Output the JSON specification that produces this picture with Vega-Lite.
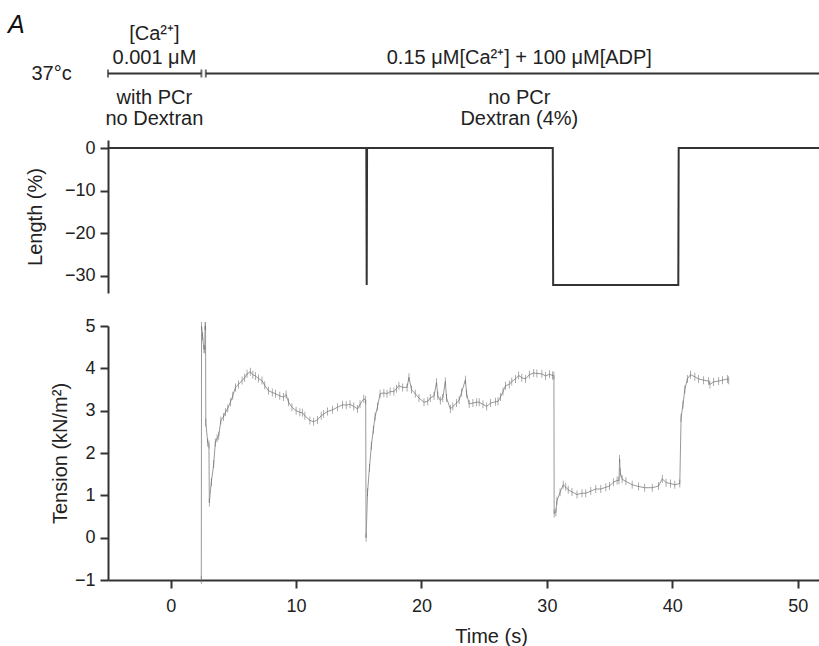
{
  "$schema": "https://vega.github.io/schema/vega-lite/v6.json",
  "padding": {"left": 8, "top": 9, "right": 0, "bottom": 2},
  "background": "white",
  "config": {
    "font": "Liberation Sans",
    "view": {"stroke": null},
    "axis": {
      "domainColor": "#333", "domainWidth": 2, "tickColor": "#333", "tickWidth": 2, "tickSize": 8,
      "labelFontSize": 18, "labelColor": "#222", "labelFont": "Liberation Sans",
      "titleFontSize": 20, "titleFontWeight": "normal", "titleColor": "#222", "titleFont": "Liberation Sans",
      "grid": false, "labelPadding": 5
    }
  },
  "datasets": {
    "phases": [
      {"start": -5, "end": 2.45, "mid": -1.3, "a1": "[Ca²⁺]", "a2": "0.001 μM", "b1": "with PCr", "b2": "no Dextran"},
      {"start": 2.8, "end": 51.7, "mid": 27.8, "a1": "", "a2": "0.15 μM[Ca²⁺] + 100 μM[ADP]", "b1": "no PCr", "b2": "Dextran (4%)"}
    ],
    "edges": [{"t": -5}, {"t": 2.45}, {"t": 2.8}],
    "notes": [{"t": -9.5, "label": "37°c"}],
    "panel": [{"t": -12.3, "label": "A"}],
    "length": [
      {"t": -5, "len": 0}, {"t": 15.6, "len": 0}, {"t": 15.63, "len": -32.1}, {"t": 15.66, "len": 0},
      {"t": 30.47, "len": 0}, {"t": 30.5, "len": -32.1}, {"t": 40.48, "len": -32.1}, {"t": 40.51, "len": 0},
      {"t": 51.7, "len": 0}
    ],
    "tension": [
      {"t": 2.44, "v": -1}, {"t": 2.46, "v": 5}, {"t": 2.55, "v": 4.75}, {"t": 2.65, "v": 4.45}, {"t": 2.72, "v": 4.45},
      {"t": 2.74, "v": 5}, {"t": 2.78, "v": 5}, {"t": 2.8, "v": 2.72}, {"t": 2.95, "v": 2.25}, {"t": 3.05, "v": 2.2},
      {"t": 3.08, "v": 0.83}, {"t": 3.24, "v": 1.31}, {"t": 3.43, "v": 1.74}, {"t": 3.56, "v": 2.25}, {"t": 3.7, "v": 2.35},
      {"t": 3.83, "v": 2.41}, {"t": 4.0, "v": 2.77}, {"t": 4.2, "v": 2.85}, {"t": 4.36, "v": 2.96}, {"t": 4.55, "v": 3.05},
      {"t": 4.76, "v": 3.2}, {"t": 4.95, "v": 3.35}, {"t": 5.16, "v": 3.55}, {"t": 5.4, "v": 3.62}, {"t": 5.69, "v": 3.71},
      {"t": 5.9, "v": 3.78}, {"t": 6.09, "v": 3.87}, {"t": 6.35, "v": 3.92}, {"t": 6.55, "v": 3.85}, {"t": 6.75, "v": 3.82},
      {"t": 7.0, "v": 3.76}, {"t": 7.28, "v": 3.71}, {"t": 7.5, "v": 3.6}, {"t": 7.8, "v": 3.47}, {"t": 8.1, "v": 3.43},
      {"t": 8.35, "v": 3.4}, {"t": 8.7, "v": 3.35}, {"t": 9.0, "v": 3.32}, {"t": 9.2, "v": 3.38}, {"t": 9.4, "v": 3.2},
      {"t": 9.67, "v": 3.08}, {"t": 10.0, "v": 3.0}, {"t": 10.3, "v": 2.96}, {"t": 10.5, "v": 2.95}, {"t": 10.7, "v": 2.88},
      {"t": 11.1, "v": 2.77}, {"t": 11.4, "v": 2.74}, {"t": 11.7, "v": 2.78}, {"t": 12.0, "v": 2.88}, {"t": 12.2, "v": 2.92},
      {"t": 12.5, "v": 2.98}, {"t": 12.9, "v": 3.02}, {"t": 13.3, "v": 3.08}, {"t": 13.7, "v": 3.14}, {"t": 14.0, "v": 3.13},
      {"t": 14.3, "v": 3.15}, {"t": 14.6, "v": 3.1}, {"t": 14.9, "v": 3.04}, {"t": 15.1, "v": 3.15}, {"t": 15.4, "v": 3.28},
      {"t": 15.55, "v": 3.25}, {"t": 15.58, "v": 0.0}, {"t": 15.7, "v": 1.07}, {"t": 15.85, "v": 1.65}, {"t": 16.0, "v": 2.17},
      {"t": 16.16, "v": 2.55}, {"t": 16.3, "v": 2.86}, {"t": 16.5, "v": 3.1}, {"t": 16.7, "v": 3.4}, {"t": 17.0, "v": 3.42},
      {"t": 17.25, "v": 3.4}, {"t": 17.5, "v": 3.45}, {"t": 17.8, "v": 3.45}, {"t": 18.0, "v": 3.52}, {"t": 18.2, "v": 3.59},
      {"t": 18.5, "v": 3.55}, {"t": 18.85, "v": 3.55}, {"t": 19.0, "v": 3.79}, {"t": 19.2, "v": 3.5}, {"t": 19.5, "v": 3.4},
      {"t": 19.8, "v": 3.3}, {"t": 20.2, "v": 3.2}, {"t": 20.5, "v": 3.22}, {"t": 20.7, "v": 3.3}, {"t": 21.0, "v": 3.35},
      {"t": 21.2, "v": 3.67}, {"t": 21.3, "v": 3.35}, {"t": 21.5, "v": 3.24}, {"t": 21.7, "v": 3.3}, {"t": 21.9, "v": 3.69},
      {"t": 22.0, "v": 3.3}, {"t": 22.3, "v": 3.04}, {"t": 22.5, "v": 3.1}, {"t": 22.8, "v": 3.18}, {"t": 23.0, "v": 3.25},
      {"t": 23.2, "v": 3.43}, {"t": 23.5, "v": 3.73}, {"t": 23.6, "v": 3.4}, {"t": 23.8, "v": 3.16}, {"t": 24.1, "v": 3.18},
      {"t": 24.4, "v": 3.2}, {"t": 24.6, "v": 3.2}, {"t": 24.9, "v": 3.15}, {"t": 25.2, "v": 3.1}, {"t": 25.5, "v": 3.18},
      {"t": 25.9, "v": 3.21}, {"t": 26.1, "v": 3.22}, {"t": 26.3, "v": 3.32}, {"t": 26.5, "v": 3.45}, {"t": 26.7, "v": 3.59},
      {"t": 27.0, "v": 3.62}, {"t": 27.2, "v": 3.69}, {"t": 27.5, "v": 3.75}, {"t": 27.75, "v": 3.83}, {"t": 28.0, "v": 3.78},
      {"t": 28.3, "v": 3.75}, {"t": 28.6, "v": 3.85}, {"t": 28.95, "v": 3.89}, {"t": 29.2, "v": 3.88}, {"t": 29.6, "v": 3.87},
      {"t": 29.9, "v": 3.82}, {"t": 30.2, "v": 3.86}, {"t": 30.45, "v": 3.83}, {"t": 30.56, "v": 3.83}, {"t": 30.58, "v": 0.57},
      {"t": 30.72, "v": 0.6}, {"t": 30.8, "v": 0.87}, {"t": 31.05, "v": 1.07}, {"t": 31.3, "v": 1.25}, {"t": 31.5, "v": 1.2},
      {"t": 31.7, "v": 1.13}, {"t": 32.0, "v": 1.08}, {"t": 32.4, "v": 1.02}, {"t": 32.8, "v": 1.05}, {"t": 33.1, "v": 1.05},
      {"t": 33.5, "v": 1.1}, {"t": 33.9, "v": 1.15}, {"t": 34.3, "v": 1.15}, {"t": 34.7, "v": 1.19}, {"t": 35.0, "v": 1.22},
      {"t": 35.3, "v": 1.31}, {"t": 35.6, "v": 1.35}, {"t": 35.75, "v": 1.35}, {"t": 35.8, "v": 1.86}, {"t": 35.85, "v": 1.54},
      {"t": 36.0, "v": 1.38}, {"t": 36.3, "v": 1.33}, {"t": 36.8, "v": 1.25}, {"t": 37.3, "v": 1.21}, {"t": 37.8, "v": 1.18},
      {"t": 38.4, "v": 1.18}, {"t": 38.9, "v": 1.22}, {"t": 39.2, "v": 1.39}, {"t": 39.5, "v": 1.3}, {"t": 39.85, "v": 1.28},
      {"t": 40.2, "v": 1.25}, {"t": 40.6, "v": 1.28}, {"t": 40.7, "v": 2.83}, {"t": 40.85, "v": 3.14}, {"t": 41.0, "v": 3.5},
      {"t": 41.2, "v": 3.75}, {"t": 41.45, "v": 3.85}, {"t": 41.8, "v": 3.8}, {"t": 42.1, "v": 3.75}, {"t": 42.5, "v": 3.72},
      {"t": 42.9, "v": 3.7}, {"t": 43.0, "v": 3.62}, {"t": 43.3, "v": 3.68}, {"t": 43.7, "v": 3.7}, {"t": 44.0, "v": 3.72},
      {"t": 44.4, "v": 3.75}, {"t": 44.5, "v": 3.72}
    ]
  },
  "resolve": {"scale": {"x": "independent", "y": "independent"}},
  "spacing": 1,
  "vconcat": [
    {
      "width": 711,
      "height": 129,
      "encoding": {
        "y": {"datum": 0, "type": "quantitative", "scale": {"domain": [-1, 1]}, "axis": null}
      },
      "layer": [
        {
          "data": {"name": "phases"},
          "mark": {"type": "rule", "color": "#333", "strokeWidth": 2},
          "encoding": {
            "x": {"field": "start", "type": "quantitative", "scale": {"domain": [-5, 51.7], "nice": false, "zero": false}, "axis": null},
            "x2": {"field": "end"}
          }
        },
        {
          "data": {"name": "edges"},
          "mark": {"type": "tick", "orient": "vertical", "size": 8, "thickness": 2, "color": "#333"},
          "encoding": {"x": {"field": "t", "type": "quantitative"}}
        },
        {
          "data": {"name": "phases"},
          "mark": {"type": "text", "baseline": "middle", "dy": -40, "fontSize": 20, "color": "#222"},
          "encoding": {"x": {"field": "mid", "type": "quantitative"}, "text": {"field": "a1"}}
        },
        {
          "data": {"name": "phases"},
          "mark": {"type": "text", "baseline": "middle", "dy": -16, "fontSize": 20, "color": "#222"},
          "encoding": {"x": {"field": "mid", "type": "quantitative"}, "text": {"field": "a2"}}
        },
        {
          "data": {"name": "phases"},
          "mark": {"type": "text", "baseline": "middle", "dy": 24, "fontSize": 20, "color": "#222"},
          "encoding": {"x": {"field": "mid", "type": "quantitative"}, "text": {"field": "b1"}}
        },
        {
          "data": {"name": "phases"},
          "mark": {"type": "text", "baseline": "middle", "dy": 45, "fontSize": 20, "color": "#222"},
          "encoding": {"x": {"field": "mid", "type": "quantitative"}, "text": {"field": "b2"}}
        },
        {
          "data": {"name": "notes"},
          "mark": {"type": "text", "baseline": "middle", "fontSize": 20, "color": "#222"},
          "encoding": {"x": {"field": "t", "type": "quantitative"}, "text": {"field": "label"}}
        },
        {
          "data": {"name": "panel"},
          "mark": {"type": "text", "baseline": "middle", "dy": -49, "fontSize": 25, "fontStyle": "italic", "color": "#111"},
          "encoding": {"x": {"field": "t", "type": "quantitative"}, "text": {"field": "label"}}
        }
      ]
    },
    {
      "spacing": 24,
      "resolve": {"scale": {"x": "independent", "y": "independent"}},
      "vconcat": [
        {
          "width": 711,
          "height": 153,
          "data": {"name": "length"},
          "mark": {"type": "line", "color": "#333", "strokeWidth": 2},
          "encoding": {
            "x": {"field": "t", "type": "quantitative", "scale": {"domain": [-5, 51.7], "nice": false, "zero": false}, "axis": null},
            "y": {"field": "len", "type": "quantitative", "scale": {"domain": [-34, 1.9], "nice": false, "zero": false},
                  "axis": {"title": "Length (%)", "values": [0, -10, -20, -30], "titlePadding": 19}}
          }
        },
        {
          "width": 711,
          "height": 254,
          "data": {"name": "tension"},
          "encoding": {
            "x": {"field": "t", "type": "quantitative", "scale": {"domain": [-5, 51.7], "nice": false, "zero": false},
                  "axis": {"title": "Time (s)", "values": [0, 10, 20, 30, 40, 50], "labelPadding": 9, "titlePadding": 11, "titleX": 383}},
            "y": {"field": "v", "type": "quantitative", "scale": {"domain": [-1, 5], "nice": false, "zero": false},
                  "axis": {"title": "Tension (kN/m²)", "values": [-1, 0, 1, 2, 3, 4, 5], "titlePadding": 4}}
          },
          "layer": [
            {"mark": {"type": "line", "color": "#999999", "strokeWidth": 1}},
            {"mark": {"type": "tick", "orient": "vertical", "size": 8, "thickness": 0.8, "color": "#6a6a6a"}}
          ]
        }
      ]
    }
  ]
}
